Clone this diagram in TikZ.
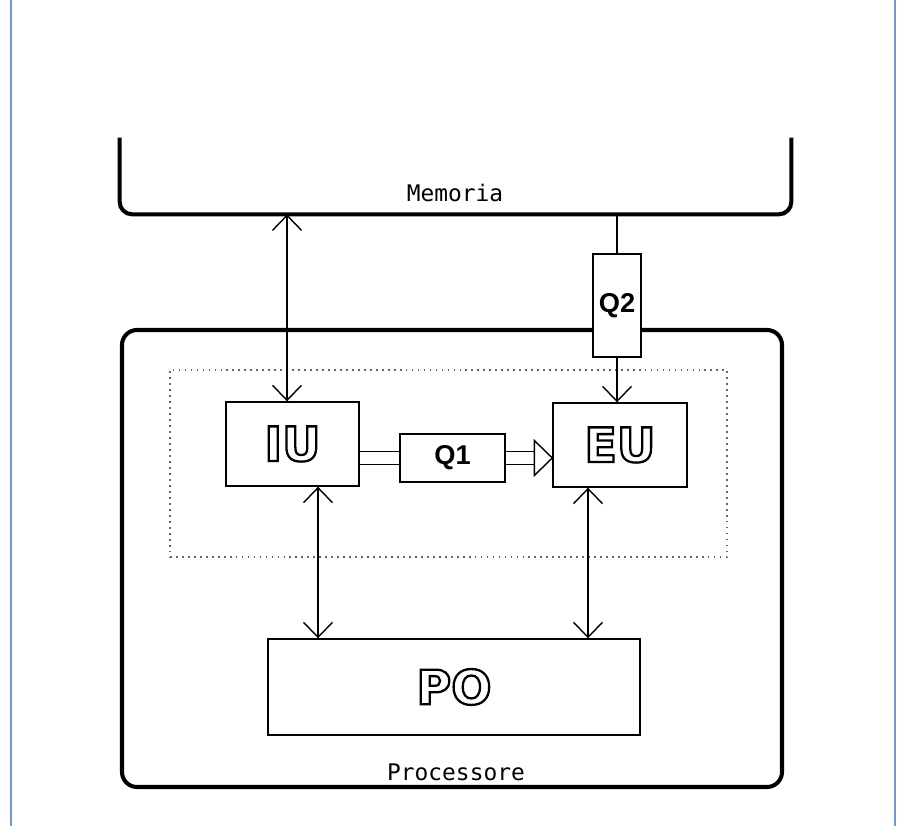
\documentclass[tikz,border=0pt]{standalone}
\usepackage{xcolor}
\usepackage{tikz}
\usepackage{fontspec}
\usetikzlibrary{arrows.meta,positioning,calc}
\newfontfamily\monofont{DejaVu Sans Mono}
\newfontfamily\boldfont{Liberation Sans Bold}
\newfontfamily\bigfont{DejaVu Sans Bold}
\definecolor{pageblue}{RGB}{110,155,215}
\newcommand{\hollow}[1]{\special{pdf:literal q 2 Tr 1.3 w 1 g 0 G}#1\special{pdf:literal Q}}

\begin{document}
\begin{tikzpicture}[thin/.style={line width=0.8pt},
  heavy/.style={line width=2.3pt},
  box/.style={draw, thin, fill=white, inner sep=0pt},
  big/.style={font=\bigfont\fontsize{27}{30}\selectfont},
  small/.style={font=\boldfont\fontsize{15.5}{17}\selectfont},
  link/.style={thin, {Straight Barb[length=0.3cm,width=0.58cm]}-{Straight Barb[length=0.3cm,width=0.58cm]}},
  tolink/.style={thin, -{Straight Barb[length=0.3cm,width=0.58cm]}},
  dbl/.style={thin, double, double distance=0.23cm}]
  \useasboundingbox (0,0) rectangle (18.04,16.52);
  \draw[pageblue, line width=1.6pt] (0.22,0) -- (0.22,16.52);
  \draw[pageblue, line width=1.6pt] (17.90,0) -- (17.90,16.52);
  \node[minimum width=13.42cm, minimum height=1.52cm] (mem) at (9.11,13.00) {};
  \draw[heavy, rounded corners=0.25cm] (mem.north west) -- (mem.south west) -- (mem.south east) -- (mem.north east);
  \node[font=\monofont\fontsize{13}{15}\selectfont] (memlbl) at (9.10,12.66) {Memoria};
  \node[draw, heavy, rounded corners=0.3cm, minimum width=13.20cm, minimum height=9.14cm] (proc) at (9.04,5.35) {};
  \node[font=\monofont\fontsize{13}{15}\selectfont] (proclbl) at (9.12,1.08) {Processore};
  \node[draw, thin, gray!80!black, dash pattern=on 1pt off 2.4pt, minimum width=11.14cm, minimum height=3.74cm] (core) at (8.97,7.25) {};
  \node[box, big, minimum width=2.66cm, minimum height=1.68cm] (iu) at (5.85,7.64) {\hollow{IU}};
  \node[box, big, minimum width=2.68cm, minimum height=1.68cm] (eu) at (12.40,7.62) {\hollow{EU}};
  \node[box, big, minimum width=7.44cm, minimum height=1.92cm] (po) at (9.08,2.78) {\hollow{PO}};
  \node[box, small, minimum width=2.10cm, minimum height=0.96cm] (q1) at (9.05,7.36) {Q1};
  \node[box, small, minimum width=0.96cm, minimum height=2.06cm] (q2) at (12.34,10.41) {Q2};
  \draw[link] ([xshift=-0.11cm]iu.north) -- ([xshift=-0.11cm]iu.north |- mem.south);
  \draw[thin] (q2.north) -- (q2.north |- mem.south);
  \draw[tolink] (q2.south) -- (q2.south |- eu.north);
  \draw[link] ([xshift=0.51cm]iu.south) -- ([xshift=0.51cm]iu.south |- po.north);
  \draw[link] ([xshift=-0.64cm]eu.south) -- ([xshift=-0.64cm]eu.south |- po.north);
  \draw[dbl] (iu.east |- q1.west) -- (q1.west);
  \draw[dbl, shorten >=0.34cm] (q1.east) -- (q1.east -| eu.west);
  \draw[thin, fill=white] (q1.east -| eu.west) -- ++(-0.36,0.35) -- ++(0,-0.70) -- cycle;
\end{tikzpicture}
\end{document}
